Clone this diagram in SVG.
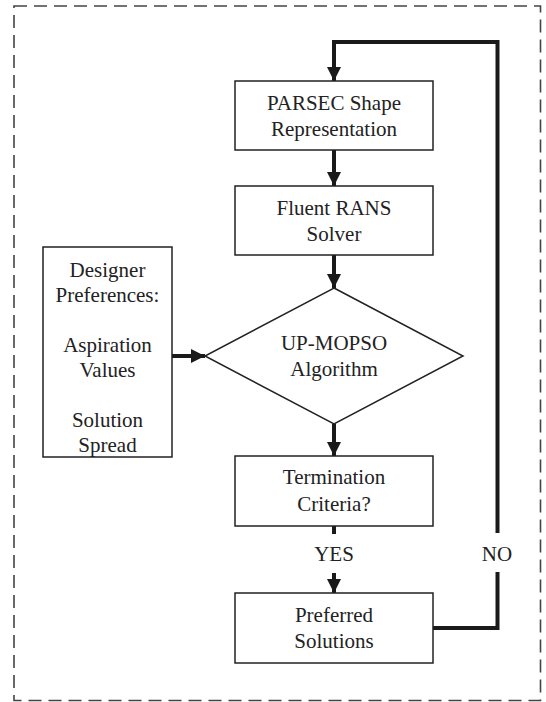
<svg xmlns="http://www.w3.org/2000/svg" width="546" height="702" viewBox="0 0 546 702">
<style>
.box{fill:#fff;stroke:#222;stroke-width:1.5}
.t{font-size:21px;fill:#222;text-anchor:middle}
.c{fill:none;stroke:#1a1a1a;stroke-width:4;stroke-linejoin:miter}
.border{fill:none;stroke:#444;stroke-width:1.6;stroke-dasharray:13 7}
</style>
<defs>
<marker id="ah" viewBox="0 0 14 14" refX="14" refY="7" markerWidth="14" markerHeight="14" markerUnits="userSpaceOnUse" orient="auto">
<path d="M0,0 L14,7 L0,14 Z" fill="#1a1a1a"/>
</marker>
</defs>
<rect class="border" x="14" y="6" width="526.5" height="694.5"/>
<g font-family="'Liberation Serif', 'Times New Roman', 'DejaVu Serif', serif">
<g id="connectors">
<path class="c" d="M497.5,533 L497.5,42 L334,42 L334,81" marker-end="url(#ah)"/>
<path class="c" d="M334,150 L334,186" marker-end="url(#ah)"/>
<path class="c" d="M334,255 L334,288" marker-end="url(#ah)"/>
<path class="c" d="M172,356 L205,356" marker-end="url(#ah)"/>
<path class="c" d="M334,424 L334,456" marker-end="url(#ah)"/>
<path class="c" d="M334,526 L334,534"/>
<path class="c" d="M334,573 L334,593" marker-end="url(#ah)"/>
<path class="c" d="M433,628 L497.5,628 L497.5,572"/>
<text class="t" x="334" y="561">YES</text>
<text class="t" x="497" y="561">NO</text>
</g>
<g id="parsec">
<rect class="box" x="235" y="81" width="198" height="69"/>
<text class="t" x="334" y="110">PARSEC Shape</text>
<text class="t" x="334" y="136">Representation</text>
</g>
<g id="fluent">
<rect class="box" x="235" y="186" width="198" height="69"/>
<text class="t" x="334" y="215">Fluent RANS</text>
<text class="t" x="334" y="241">Solver</text>
</g>
<g id="designer">
<rect class="box" x="43" y="247" width="129" height="210"/>
<text class="t" x="107.5" y="277">Designer</text>
<text class="t" x="107.5" y="302">Preferences:</text>
<text class="t" x="107.5" y="352">Aspiration</text>
<text class="t" x="107.5" y="377">Values</text>
<text class="t" x="107.5" y="427">Solution</text>
<text class="t" x="107.5" y="452">Spread</text>
</g>
<g id="upmopso">
<polygon class="box" points="334,288 463,356 334,424 205,356"/>
<text class="t" x="334" y="350">UP-MOPSO</text>
<text class="t" x="334" y="376">Algorithm</text>
</g>
<g id="termination">
<rect class="box" x="235" y="456" width="198" height="70"/>
<text class="t" x="334" y="484">Termination</text>
<text class="t" x="334" y="511">Criteria?</text>
</g>
<g id="preferred">
<rect class="box" x="235" y="593" width="198" height="70"/>
<text class="t" x="334" y="622">Preferred</text>
<text class="t" x="334" y="648">Solutions</text>
</g>
</g>
</svg>
